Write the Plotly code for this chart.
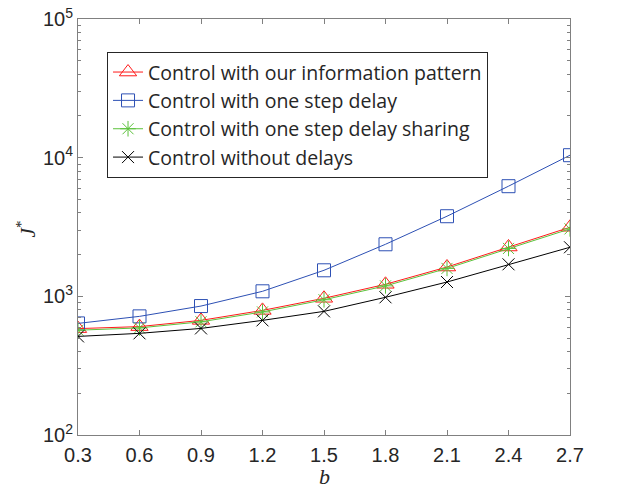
import plotly.graph_objects as go

b_values = [0.3, 0.6, 0.9, 1.2, 1.5, 1.8, 2.1, 2.4, 2.7]
our_pattern = [585, 605, 671, 792, 968, 1221, 1627, 2269, 3148]
one_step_delay = [638, 717, 851, 1087, 1541, 2374, 3782, 6226, 10420]
one_step_sharing = [570, 592, 655, 772, 945, 1190, 1590, 2215, 3065]
without_delays = [514, 541, 587, 671, 779, 984, 1268, 1702, 2259]

x_ticks = [0.3, 0.6, 0.9, 1.2, 1.5, 1.8, 2.1, 2.4, 2.7]
x_tick_text = ["0.3", "0.6", "0.9", "1.2", "1.5", "1.8", "2.1", "2.4", "2.7"]
y_ticks = [100, 1000, 10000, 100000]
y_tick_text = ["10<sup>2</sup>", "10<sup>3</sup>", "10<sup>4</sup>", "10<sup>5</sup>"]
y_minor = [m * 10 ** e for e in (2, 3, 4) for m in range(2, 10)]

names = [
    "Control with our information pattern",
    "Control with one step delay",
    "Control with one step delay sharing",
    "Control without delays",
]
series = [our_pattern, one_step_delay, one_step_sharing, without_delays]
colors = ["#ff1a1a", "#2d50b4", "#5cc23c", "#000000"]
symbols = ["triangle-up-open", "square-open", "asterisk-open", "x-thin-open"]
sizes = [15, 13, 13, 12]

fig = go.Figure()
for name, ys, c, s, sz in zip(names, series, colors, symbols, sizes):
    fig.add_trace(go.Scatter(
        x=b_values, y=ys, name=name, mode="lines+markers",
        line=dict(color=c, width=1),
        marker=dict(symbol=s, size=sz, color=c, line=dict(color=c, width=1)),
    ))

axis_common = dict(
    showline=True, linecolor="#808080", linewidth=1, mirror="allticks",
    ticks="inside", tickcolor="#808080", ticklen=5, tickwidth=1,
    showgrid=False, zeroline=False, automargin=False,
    tickfont=dict(family="Liberation Sans, Arial, sans-serif", size=20, color="#262626"),
)

fig.update_xaxes(
    range=[0.3, 2.7], tickvals=x_ticks, ticktext=x_tick_text, ticklabelstandoff=2,
    **axis_common,
)
fig.update_yaxes(
    type="log", range=[2, 5], tickvals=y_ticks, ticktext=y_tick_text,
    minor=dict(tickvals=y_minor, ticks="inside", ticklen=3, tickcolor="#808080", tickwidth=1),
    **axis_common,
)

fig.add_annotation(
    text="<i>b</i>", xref="paper", yref="paper", x=0.5, y=-0.065,
    xanchor="center", yanchor="top", showarrow=False,
    font=dict(family="Liberation Serif, serif", size=22, color="#262626"),
)
fig.add_annotation(
    text="<i>J</i><sup>*</sup>", xref="paper", yref="paper", x=-0.105, y=0.495,
    xanchor="center", yanchor="middle", showarrow=False, textangle=-90,
    font=dict(family="Liberation Serif, serif", size=21, color="#262626"),
)

fig.update_layout(
    width=619, height=491,
    margin=dict(l=78, r=49, t=19, b=56),
    paper_bgcolor="white", plot_bgcolor="white",
    legend=dict(
        x=0.059, y=0.921, xanchor="left", yanchor="top",
        bgcolor="white", bordercolor="#262626", borderwidth=1,
        font=dict(family="Open Sans, Liberation Sans, sans-serif", size=19.5, color="#262626"),
        itemwidth=30, tracegroupgap=0,
    ),
    showlegend=True,
)

fig.write_html("out.html", config={"displayModeBar": False},
               post_script="document.body.style.margin='0px';")
